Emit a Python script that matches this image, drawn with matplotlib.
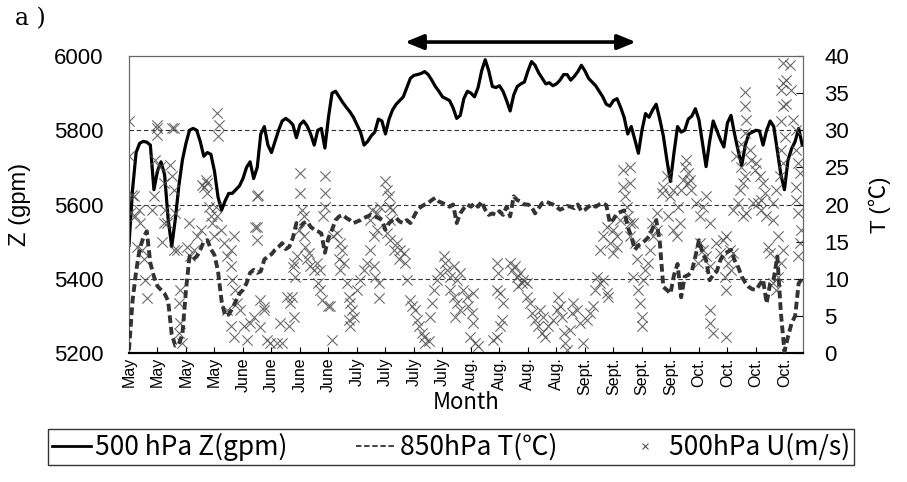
import numpy as np
import matplotlib
matplotlib.use("Agg")
import matplotlib.pyplot as plt
from matplotlib.lines import Line2D

plt.rcParams['font.family'] = ['Liberation Sans', 'Noto Sans CJK JP', 'DejaVu Sans']

# tick labels (one every 8 days)
month_labels = ['May'] * 4 + ['June'] * 4 + ['July'] * 4 + ['Aug.'] * 4 + ['Sept.'] * 4 + ['Oct.'] * 4

# 500 hPa geopotential height, one value per day (gpm)
z500 = [5490, 5640, 5740, 5765, 5770, 5768, 5760, 5640, 5690, 5715,
        5680, 5560, 5487, 5560, 5650, 5720, 5765, 5800, 5805, 5800,
        5770, 5730, 5740, 5735, 5690, 5620, 5585, 5610, 5630, 5630,
        5640, 5650, 5670, 5700, 5715, 5670, 5700, 5790, 5810, 5760,
        5740, 5770, 5800, 5825, 5832, 5825, 5815, 5780, 5815, 5825,
        5812, 5790, 5760, 5800, 5805, 5752, 5835, 5900, 5905, 5890,
        5875, 5862, 5850, 5835, 5815, 5795, 5760, 5770, 5785, 5795,
        5830, 5825, 5790, 5830, 5855, 5870, 5880, 5890, 5915, 5940,
        5948, 5950, 5953, 5958, 5950, 5935, 5918, 5905, 5890, 5885,
        5880, 5860, 5832, 5840, 5885, 5905, 5900, 5890, 5915, 5960,
        5990, 5960, 5918, 5915, 5920, 5905, 5880, 5852, 5895, 5918,
        5925, 5930, 5960, 5985, 5975, 5955, 5940, 5925, 5928, 5920,
        5925, 5935, 5950, 5950, 5935, 5945, 5958, 5975, 5960, 5940,
        5930, 5920, 5905, 5890, 5870, 5865, 5880, 5885, 5862, 5835,
        5790, 5810, 5775, 5738, 5800, 5845, 5835, 5855, 5870, 5830,
        5785, 5720, 5662, 5740, 5810, 5795, 5800, 5830, 5838, 5858,
        5828, 5765, 5702, 5770, 5825, 5800, 5775, 5755, 5820, 5840,
        5790, 5745, 5705, 5760, 5790, 5795, 5800, 5798, 5760, 5800,
        5825, 5810, 5745, 5680, 5640, 5720, 5750, 5770, 5805, 5760]

# 850 hPa temperature, one value per day (deg C)
t850 = [0.4, 7, 11, 14, 15.5, 16.4, 12.1, 10.3, 9, 8.5,
        8, 7, 2.5, 1, 1.2, 2.5, 8.5, 13, 12.6, 13,
        13.9, 15, 15.2, 14, 13.2, 11, 7, 5, 5.2, 6,
        7, 8, 8.5, 9.4, 10.8, 11.2, 10.8, 11, 12.6, 13,
        13.3, 13.9, 14.3, 14.8, 14, 14.3, 15.5, 17.5, 17.0, 17.5,
        17.7, 17.0, 16.6, 16.4, 16.1, 13.5, 15.5, 16.6, 17.9, 18.4,
        18.6, 18.2, 17.9, 17.5, 17.7, 17.9, 18.2, 18.4, 18.6, 18.4,
        18.2, 17.9, 16.6, 17.5, 17.9, 18.2, 17.7, 17.5, 17.9, 17.5,
        18.4, 19.3, 19.7, 20.0, 20.2, 20.6, 20.9, 20.4, 20.2, 20.0,
        19.7, 20.0, 17.5, 18.8, 19.5, 20, 19.7, 20.2, 19.7, 20.4,
        19.3, 18.6, 18.8, 18.6, 19.1, 18.6, 19.7, 18.4, 21.1, 20.6,
        20.4, 20, 20, 19.7, 18.8, 19.5, 20.2, 20.4, 20.2, 20,
        19.7, 19.3, 19.5, 19.8, 19.7, 19.5, 20, 19.1, 19.3, 19.7,
        20, 19.7, 20, 20.2, 19.9, 17.5, 18, 18.8, 19, 19.2,
        17, 15.7, 13.9, 14.5, 14.8, 15.2, 15.7, 16.8, 17.9, 15,
        8.9, 8.5, 8, 10.5, 12, 7.5, 10.3, 10.5, 11, 13,
        15.2, 13.5, 12.5, 9.8, 10.5, 11, 12.5, 13.4, 13.6, 13.9,
        12.5, 11.6, 10.3, 9.5, 8.9, 8.6, 8.5, 9.2, 9.9, 6.7,
        9.4, 10, 13, 5.4, 0.2, 2.2, 4, 5, 9.4, 10]

# 500 hPa zonal wind samples: day position and speed (m/s)
u_day = [0.1, 0.1, 0.9, 1.4, 0.4, 1.8, 2.8, 3.2, 3.7, 2.3, 4.2, 4.6, 5.1, 6.5, 7.0,
         7.9, 7.9, 7.4, 8.8, 9.8, 10.2, 9.8, 9.3, 10.7, 11.6, 12.1, 12.1, 12.6, 13.0,
         13.5, 14.4, 14.0, 14.4, 14.0, 14.9, 12.6, 16.8, 16.3, 17.2, 18.2, 19.1, 20.1,
         20.5, 21.5, 21.9, 22.4, 22.9, 23.3, 23.8, 24.7, 25.2, 24.3, 24.7, 25.7, 26.6,
         27.5, 28.5, 29.4, 28.5, 28.9, 29.9, 30.3, 31.3, 27.5, 28.5, 29.4, 32.2, 33.1,
         34.1, 35.0, 35.5, 35.9, 35.9, 36.9, 37.8, 38.7, 39.7, 41.6, 42.5, 42.9, 44.4,
         44.8, 45.3, 8.0, 12.5, 25.1, 21.0, 22.0, 36.3, 36.0, 37.8, 36.9, 46.0,
         48.1, 48.1, 48.6, 49.0, 47.6, 49.0, 49.5, 50.4, 46.2, 46.7, 45.8, 46.2, 47.2,
         50.0, 50.9, 51.8, 52.8, 53.7, 53.2, 53.7, 54.2, 55.1, 55.1, 55.1, 54.6, 56.0,
         56.5, 57.0, 57.4, 58.4, 59.3, 59.8, 58.9, 59.3, 60.3, 61.2, 61.7, 62.1, 62.6,
         63.1, 62.1, 61.7, 64.0, 64.9, 65.9, 66.8, 67.7, 68.7, 69.6, 68.7, 69.1, 70.1,
         70.1, 68.2, 69.6, 67.7, 70.5, 72.0, 72.4, 72.9, 73.3, 73.8, 73.3, 72.4, 73.3,
         74.3, 75.2, 76.1, 77.1, 77.5, 75.7, 78.0, 79.0, 79.4, 80.3, 80.8, 81.3, 82.2,
         83.2, 84.1, 82.7, 84.6, 85.0, 85.5, 86.4, 87.4, 88.3, 88.8, 89.2, 90.2, 91.1,
         92.0, 93.0, 90.2, 91.1, 92.0, 93.0, 91.6,
         93.9, 94.8, 95.3, 96.2, 96.7, 95.8, 97.2, 98.1, 96.7, 102.3, 103.2, 104.2,
         104.6, 105.1, 104.2, 103.2, 103.7, 103.2, 107.0, 107.4, 108.4, 108.8, 109.8,
         110.7, 111.6, 109.3, 110.2, 111.6, 112.6, 113.1, 114.0, 114.9, 115.9, 116.8,
         115.4, 116.3, 117.7, 119.1, 120.1, 120.5, 121.0, 121.5, 122.0, 122.4, 122.9,
         123.8, 124.3, 124.7, 125.7, 126.6, 127.5, 128.5, 129.4, 130.3, 130.8, 131.3,
         132.2, 133.1, 134.1, 134.5, 132.2, 133.1, 134.1, 135.0, 136.0, 136.9, 136.0,
         138.8, 138.8, 139.2, 139.7, 140.2, 137.8, 136.9, 140.6, 140.6,
         140.6, 140.6, 141.5, 142.0, 142.5, 141.5, 142.9, 143.4, 143.9, 143.9, 144.3,
         144.8, 145.7, 146.2, 147.1, 148.1, 146.7, 148.1, 149.5, 149.9, 150.9, 151.8,
         152.7, 151.3, 152.7, 153.7, 154.6, 154.2, 155.1, 155.6, 156.0, 156.5, 157.0,
         157.0, 157.4, 157.9, 159.3, 160.2, 161.2, 162.1, 163.0, 160.2, 161.2, 159.8,
         162.1, 163.0, 164.9, 165.8, 166.8, 167.7, 168.6, 169.6, 168.2, 169.1, 167.2,
         167.7, 163.0, 163.0, 164.0, 167.7, 169.6, 171.0, 171.4, 172.4, 172.8, 171.9,
         170.5, 171.9, 172.8, 173.3, 172.8, 172.8, 174.2, 174.7, 175.6, 176.1, 177.0,
         178.0, 178.5, 177.5, 176.6, 177.5, 178.9, 180.8, 173.3, 172.4, 175.2, 179.4,
         179.9, 180.8, 181.7, 182.2, 183.1, 183.6, 182.2, 180.8, 181.7, 182.7, 183.6,
         183.1, 184.1, 183.1, 183.6, 184.5, 183.1, 183.6, 184.5, 183.6, 185.5, 185.9,
         186.4, 187.3, 187.3, 187.8, 188.3, 187.3, 187.3, 187.8, 188.7, 188.3, 187.8]
u_val = [31.2, 26.5, 21.3, 21.1, 18.8, 18.4, 19.3, 17.5, 13.9, 14.3, 12.6, 9.9, 7.4, 19.3, 21.1,
         30.3, 29.4, 26.0, 25.1, 22.9, 19.3, 17.5, 15.0, 17.5, 25.3, 30.3, 23.8, 22.0, 18.8,
         13.9, 8.5, 6.7, 4.0, 2.7, 1.3, 13.9, 17.5, 14.3, 13.0, 13.9, 15.7, 16.6,
         22.6, 23.3, 21.5, 19.7, 18.4, 17.5, 15.7, 32.3, 30.7, 19.7, 18.4, 16.6, 14.8,
         13.0, 13.9, 15.7, 11.7, 9.9, 8.5, 6.7, 5.8, 5.8, 3.6, 2.2, 3.6, 1.8,
         4.0, 4.9, 17.0, 21.1, 15.2, 7.2, 5.8, 1.8, 1.3, 1.3, 4.0, 1.3, 7.6,
         3.6, 6.7, 30.7, 30.3, 29.2, 22.4, 22.9, 21.3, 17.0, 6.2, 3.5, 11.6,
         24.2, 21.5, 19.3, 18.4, 16.6, 15.7, 14.3, 13.5, 12.1, 10.3, 7.6, 4.9, 13.0,
         12.6, 11.7, 11.2, 12.1, 11.2, 9.4, 8.5, 7.2, 23.8, 21.5, 19.7, 18.4, 6.3,
         6.3, 1.8, 15.7, 16.1, 14.8, 13.9, 12.6, 11.2, 12.1, 9.4, 7.6, 6.7, 5.8,
         4.9, 3.6, 4.5, 8.5, 9.9, 11.2, 12.1, 13.9, 15.7, 16.6, 11.7, 10.3, 9.4,
         7.4, 19.3, 18.8, 17.9, 19.7, 23.1, 22.0, 21.1, 19.7, 19.3, 17.9, 16.1, 15.2,
         13.9, 14.8, 13.9, 13.5, 12.1, 12.6, 9.9, 7.2, 6.3, 5.8, 4.5, 3.6, 2.7,
         1.3, 1.6, 2.2, 4.9, 6.7, 8.5, 9.9, 10.8, 13.0, 12.1, 11.2, 10.3, 11.7,
         9.9, 10.8, 8.5, 7.6, 6.7, 5.8, 4.9,
         8.5, 7.6, 6.3, 5.4, 4.0, 2.2, 1.3, 0.9, 8.1, 1.8, 2.2, 3.6,
         4.5, 6.7, 8.1, 8.5, 10.8, 12.1, 12.1, 11.2, 11.7, 10.3, 10.8,
         9.9, 9.4, 9.0, 9.4, 7.6, 6.7, 5.4, 4.5, 3.6, 2.7, 2.2,
         5.8, 4.9, 3.6, 4.5, 5.8, 7.6, 6.3, 4.9, 2.7, 1.3, 0.4,
         3.1, 5.4, 6.7, 5.8, 4.0, 1.3, 4.5, 5.4, 6.3, 8.5, 10.3,
         9.4, 9.9, 8.1, 7.6, 13.9, 15.7, 17.0, 14.8, 13.5, 14.3, 16.6,
         24.7, 22.4, 21.1, 19.7, 18.4, 17.9, 15.7, 17.5, 15.7,
         25.1, 22.9, 17.5, 14.8, 12.6, 10.3, 8.5, 6.7, 4.9, 3.6, 9.9,
         11.2, 12.1, 13.9, 15.7, 16.6, 17.5, 18.8, 21.5, 22.4, 23.8, 21.1,
         22.0, 18.4, 16.6, 15.7, 17.5, 19.7, 22.0, 23.3, 25.1, 26.0, 24.2,
         22.9, 23.3, 22.0, 20.2, 18.4, 19.7, 21.1, 17.5, 14.8, 13.9, 12.1,
         13.0, 11.7, 14.8, 13.5, 15.2, 15.7, 13.9, 13.5, 12.1, 11.2, 10.3,
         8.5, 5.8, 4.0, 2.7, 2.2, 19.3, 20.2, 22.0, 22.9, 23.8, 25.1,
         26.5, 28.2, 29.6, 31.4, 33.2, 35.2, 27.4, 26.0, 24.7, 25.6, 23.8,
         22.9, 21.5, 20.6, 20.2, 19.3, 18.4, 17.9, 18.8, 18.4, 20.2, 14.3,
         13.5, 9.4, 8.5, 10.3, 12.1, 13.9, 15.7, 20.2, 22.0, 23.8, 25.6,
         27.4, 29.1, 31.2, 33.2, 33.6, 35.4, 36.3, 36.8, 39.0, 38.8, 35.4,
         31.4, 30.0, 27.4, 25.6, 24.2, 22.4, 20.6, 18.8, 16.6, 14.8, 13.0]

days = np.arange(len(z500))
tick_pos = np.arange(len(month_labels)) * 8

fig = plt.figure(figsize=(9.07, 4.82), dpi=100)
ax = fig.add_axes([0.1422, 0.2676, 0.7431, 0.6162])
ax2 = ax.twinx()

# horizontal dashed reference lines
for g in [5400, 5600, 5800]:
    ax.axhline(g, color='#333333', lw=0.8, ls=(0, (4, 2.5)), zorder=1)

ax.plot(days, z500, color='black', lw=2.3, zorder=3)
ax2.plot(days, t850, color='#333333', lw=2.8, ls=(0, (2, 1)), zorder=3)
ax2.scatter(u_day, u_val, marker='x', s=55, color='#505050', linewidths=0.8,
            alpha=0.85, zorder=2)

ax.set_xlim(0, 189.2)
ax.set_ylim(5200, 6000)
ax2.set_ylim(0, 40)
ax.set_yticks(np.arange(5200, 6001, 200))
ax2.set_yticks(np.arange(0, 41, 5))
ax.set_xticks(tick_pos)
ax.set_xticklabels(month_labels, rotation=90, fontsize=11.5)

ax.tick_params(axis='y', length=0, pad=18.5, labelsize=16)
ax.tick_params(axis='x', direction='in', length=4, pad=3, width=0.8)
ax2.tick_params(axis='y', direction='in', length=5, pad=15.5, labelsize=16, width=0.8)

for a in (ax, ax2):
    for s in ['left', 'right', 'top']:
        a.spines[s].set_color('#666666')
        a.spines[s].set_linewidth(0.8)
    a.spines['bottom'].set_linewidth(1.5)

ax.set_ylabel('Z (gpm)', fontsize=17)
ax.yaxis.set_label_coords(-0.146, 0.5)
ax2.set_ylabel('T (℃)', fontsize=16)
ax2.yaxis.set_label_coords(1.097, 0.5)
ax.set_xlabel('Month', fontsize=16, family=['Noto Sans CJK JP', 'DejaVu Sans'])
ax.xaxis.set_label_coords(0.5, -0.128)

# double arrow marking the period above the plot
ax.annotate('', xy=(142.3, 1.047), xytext=(77.5, 1.047),
            xycoords=('data', 'axes fraction'), textcoords=('data', 'axes fraction'),
            arrowprops=dict(arrowstyle='<|-|>,head_length=1.1,head_width=0.45',
                            color='black', lw=2.6, shrinkA=0, shrinkB=0),
            annotation_clip=False)

fig.text(0.017, 0.962, 'a )', fontsize=17, family=['DejaVu Serif'], va='center')

handles = [Line2D([], [], color='black', lw=2),
           Line2D([], [], color='#333333', lw=1.3, ls=(0, (3, 1.5))),
           Line2D([], [], color='#555555', marker='x', ls='none', markersize=5, mew=0.8)]
labels = ['500 hPa Z(gpm)', '850hPa T(℃)', '500hPa U(m/s)']
leg = fig.legend(handles, labels, loc='center', ncol=3,
                 bbox_to_anchor=(451 / 907, 1 - 447 / 482),
                 frameon=True, fancybox=False, edgecolor='black',
                 handlelength=1.5, handletextpad=0.15, columnspacing=2.6,
                 borderpad=0.15, borderaxespad=0,
                 prop={'family': ['Noto Sans CJK JP', 'DejaVu Sans'], 'size': 19})
leg.get_frame().set_linewidth(1.0)

fig.savefig('out.png', dpi=100)
